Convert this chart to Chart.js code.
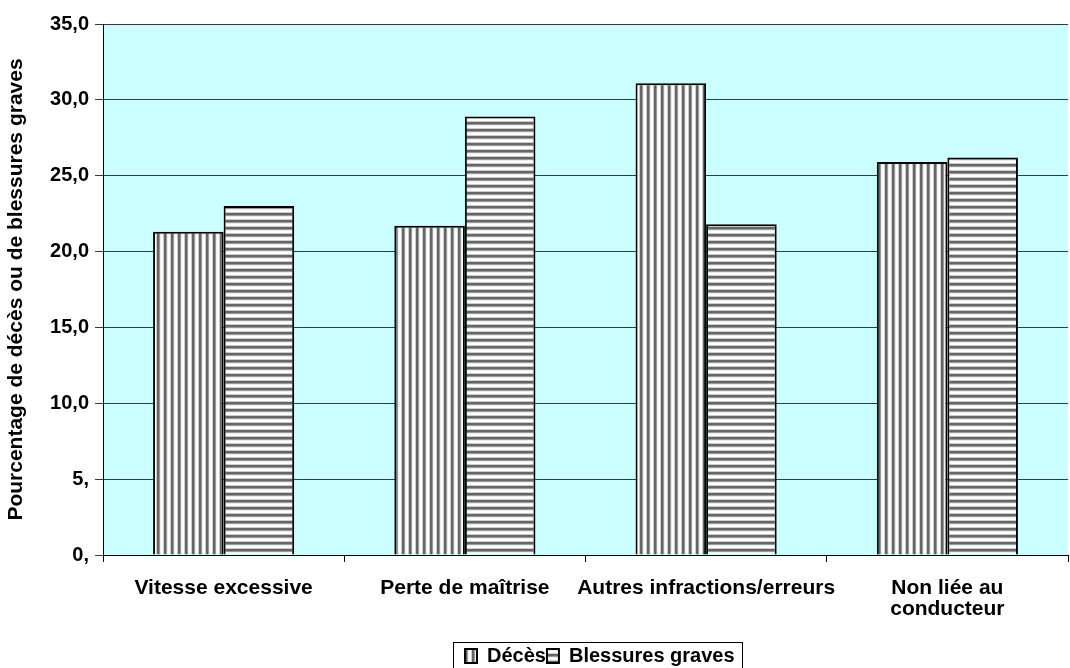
<!DOCTYPE html>
<html>
<head>
<meta charset="utf-8">
<script src="https://cdn.jsdelivr.net/npm/chart.js@4"></script>
<style>
  html, body { margin: 0; padding: 0; background: #fff; }
  #wrap { width: 1070px; height: 668px; }
</style>
</head>
<body>
<div id="wrap"><canvas id="chart" width="1070" height="668"></canvas></div>
<script>
const categories = ['Vitesse excessive', 'Perte de maîtrise', 'Autres infractions/erreurs', ['Non liée au', 'conducteur']];
const deces = [21.3, 21.7, 31.1, 25.9];
const blessures = [23.0, 28.9, 21.8, 26.2];
const yTickLabels = ['0,', '5,', '10,0', '15,0', '20,0', '25,0', '30,0', '35,0'];

const FONT = 'Liberation Sans, Arial, sans-serif';

// striped fills, one for each series
const stripeShades = ['#ffffff', '#ffffff', '#cccccc', '#666666', '#666666', '#9a9a9a', '#eeeeee'];
function stripes(vertical) {
  const n = stripeShades.length;
  const c = document.createElement('canvas');
  c.width = n; c.height = n;
  const g = c.getContext('2d');
  stripeShades.forEach((col, i) => {
    g.fillStyle = col;
    if (vertical) g.fillRect(i, 0, 1, n); else g.fillRect(0, i, n, 1);
  });
  return g.createPattern(c, 'repeat');
}

const plotBg = {
  id: 'plotBg',
  beforeDraw(chart) {
    const a = chart.chartArea, ctx = chart.ctx;
    ctx.save();
    ctx.fillStyle = '#ccffff';
    ctx.fillRect(a.left, a.top, a.right - a.left, a.bottom - a.top);
    ctx.restore();
  }
};

// place the legend row and frame it
const LEGEND_X = 465, LEGEND_DY = 8;
const legendFrame = {
  id: 'legendFrame',
  afterLayout(chart) {
    const lg = chart.legend;
    const pad = lg.options.labels.padding;
    const start = (lg.left + pad + lg.right - lg.lineWidths[0]) / 2;
    const dx = LEGEND_X - start;
    lg.left += dx; lg.right += dx;
    lg.top += LEGEND_DY; lg.bottom += LEGEND_DY;
  },
  afterDraw(chart) {
    const lg = chart.legend, ctx = chart.ctx;
    ctx.save();
    ctx.strokeStyle = '#000';
    ctx.lineWidth = 1;
    ctx.strokeRect(LEGEND_X - 12 + 0.5, Math.round(lg.top) - 3 + 0.5, Math.round(lg.lineWidths[0] + 18), 40);
    ctx.restore();
  }
};

new Chart(document.getElementById('chart'), {
  type: 'bar',
  data: {
    labels: categories,
    datasets: [
      { label: 'Décès', data: deces, backgroundColor: stripes(true), borderColor: '#000', borderWidth: 2 },
      { label: 'Blessures graves', data: blessures, backgroundColor: stripes(false), borderColor: '#000', borderWidth: 2 }
    ]
  },
  plugins: [plotBg, legendFrame],
  options: {
    responsive: false,
    animation: false,
    layout: { padding: { top: 24, right: 2, left: 4, bottom: 0 } },
    datasets: { bar: { categoryPercentage: 0.585, barPercentage: 1.0 } },
    plugins: {
      tooltip: { enabled: false },
      legend: {
        position: 'bottom',
        labels: {
          boxWidth: 12, boxHeight: 14, padding: 1,
          color: '#000',
          font: { family: FONT, size: 20, weight: 'bold' }
        }
      }
    },
    scales: {
      x: {
        offset: true,
        grid: { display: true, drawOnChartArea: false, tickLength: 7, color: '#000' },
        border: { color: '#000', width: 1 },
        ticks: {
          color: '#000', padding: 16, maxRotation: 0, autoSkip: false,
          font: { family: FONT, size: 21, weight: 'bold', lineHeight: 1.0 }
        },
        afterFit(s) { s.height = 82; }
      },
      y: {
        min: 0, max: 35,
        ticks: {
          stepSize: 5, color: '#000', padding: 6,
          font: { family: FONT, size: 20, weight: 'bold' },
          callback: (v) => yTickLabels[Math.round(v / 5)]
        },
        grid: { color: '#3a3a3a', tickLength: 8 },
        border: { color: '#000', width: 1 },
        title: {
          display: true, text: 'Pourcentage de décès ou de blessures graves', color: '#000', padding: { top: 0, bottom: 5 },
          font: { family: FONT, size: 21, weight: 'bold' }
        },
        afterFit(s) { s.width = 99; }
      }
    }
  }
});
</script>
</body>
</html>
